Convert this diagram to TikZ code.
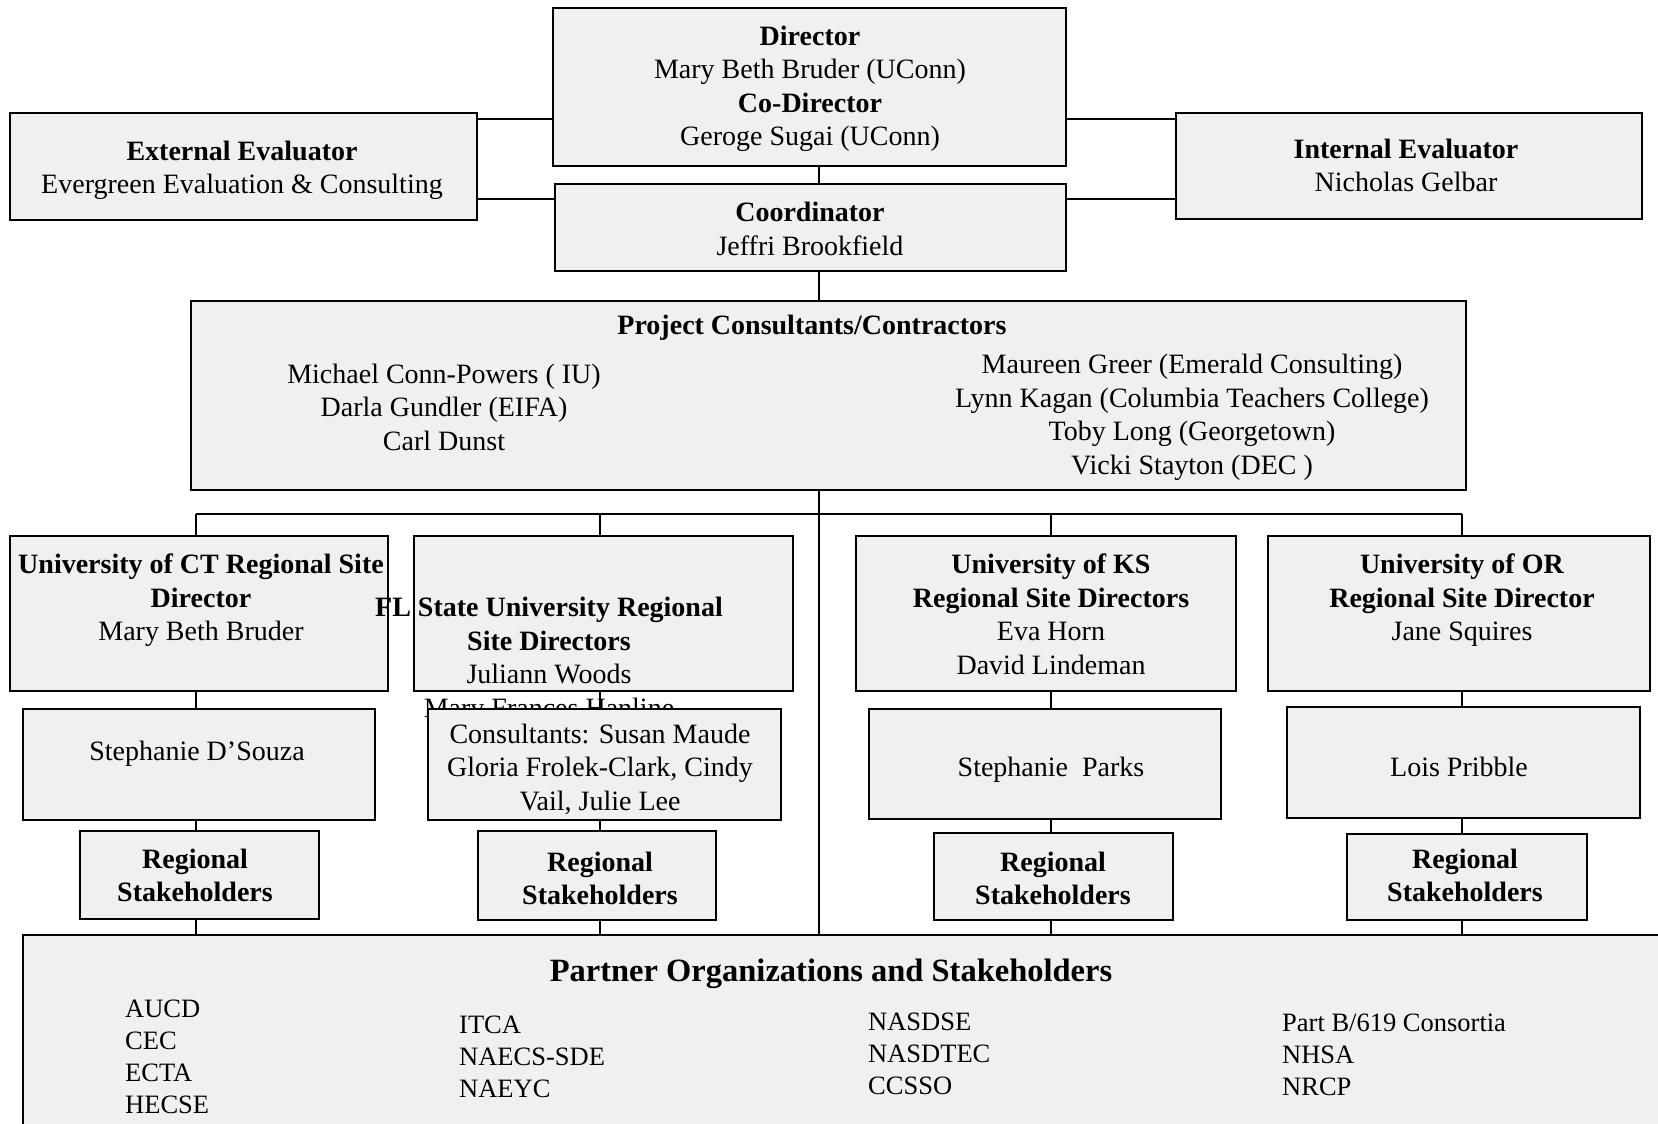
\documentclass[tikz,border=0pt]{standalone}
\usepackage{fontspec}
\setmainfont{Liberation Serif}
\definecolor{boxgray}{RGB}{240,240,240}
\tikzset{
  box/.style={draw=black, line width=2pt, fill=boxgray, rectangle, inner sep=0pt, outer sep=0pt},
  conn/.style={line width=1.6pt, draw=black},
  txt/.style={align=center, inner sep=0pt, font=\fontsize{28}{33.5}\selectfont},
  ttl/.style={align=center, inner sep=0pt, font=\fontsize{32.5}{38}\selectfont\bfseries},
  lst/.style={align=left, anchor=west, inner sep=0pt, font=\fontsize{26.5}{32}\selectfont}
}
\begin{document}
\begin{tikzpicture}[x=1pt,y=-1pt]
\useasboundingbox (0,0) rectangle (1658,1124);
\clip (0,0) rectangle (1658,1124);
\fill[white] (0,0) rectangle (1658,1124);

% ---- boxes ----
\node[box, minimum width=513pt, minimum height=157.5pt] (dir) at (809.5,87.25) {};
\node[box, minimum width=467.5pt, minimum height=107pt] (ext) at (243.25,166.5) {};
\node[box, minimum width=466pt, minimum height=106pt] (int) at (1409,166) {};
\node[box, minimum width=511pt, minimum height=87pt] (coord) at (810.5,227.5) {};
\node[box, minimum width=1275pt, minimum height=189pt] (proj) at (828.5,395.5) {};

\node[box, minimum width=378.5pt, minimum height=155pt] (siteCT) at (198.75,613.5) {};
\node[box, minimum width=379pt, minimum height=155pt] (siteFL) at (603.5,613.5) {};
\node[box, minimum width=380pt, minimum height=155pt] (siteKS) at (1046,613.5) {};
\node[box, minimum width=382pt, minimum height=155pt] (siteOR) at (1459,613.5) {};

% ---- texts, upper part ----
\node[txt] (tdir) at (810,89) {\textbf{Director}\\Mary Beth Bruder (UConn)\\\textbf{Co-Director}\\Geroge Sugai (UConn)};
\node[txt] (text) at (242,170.5) {\textbf{External Evaluator}\\Evergreen Evaluation \& Consulting};
\node[txt] (tint) at (1406,165.5) {\textbf{Internal Evaluator}\\Nicholas Gelbar};
\node[txt] (tcoord) at (810,229) {\textbf{Coordinator}\\Jeffri Brookfield};
\node[txt] (tprojT) at (812,328) {\textbf{Project Consultants/Contractors}};
\node[txt] (tprojL) at (444,407) {Michael Conn-Powers ( IU)\\Darla Gundler (EIFA)\\Carl Dunst};
\node[txt] (tprojR) at (1192,417.5) {Maureen Greer (Emerald Consulting)\\Lynn Kagan (Columbia Teachers College)\\Toby Long (Georgetown)\\Vicki Stayton (DEC )};

\node[txt] (tsiteCT) at (201,600.5) {\textbf{University of CT Regional Site}\\\textbf{Director}\\Mary Beth Bruder};
\node[txt] (tsiteFL) at (549,660.5) {\textbf{FL State University Regional}\\\textbf{Site Directors}\\Juliann Woods\\Mary Frances Hanline};
\node[txt] (tsiteKS) at (1051,614.5) {\textbf{University of KS}\\\textbf{Regional Site Directors}\\Eva Horn\\David Lindeman};
\node[txt] (tsiteOR) at (1462,600.5) {\textbf{University of OR}\\\textbf{Regional Site Director}\\Jane Squires};

% ---- middle boxes ----
\node[box, minimum width=352pt, minimum height=111pt] (midCT) at (199,764.5) {};
\node[box, minimum width=353pt, minimum height=111pt] (midFL) at (604.5,764.5) {};
\node[box, minimum width=352pt, minimum height=110pt] (midKS) at (1045,764) {};
\node[box, minimum width=353pt, minimum height=111pt] (midOR) at (1463.5,762.5) {};
\node[txt] (tmidCT) at (197,754) {Stephanie D’Souza};
\node[txt] (tmidFL) at (600,769) {Consultants: Susan Maude\\Gloria Frolek-Clark, Cindy\\Vail, Julie Lee};
\node[txt] (tmidKS) at (1051,770) {Stephanie\ \ Parks};
\node[txt] (tmidOR) at (1459,767) {Lois Pribble};

% ---- stakeholder boxes ----
\node[box, minimum width=239pt, minimum height=88pt] (stkCT) at (199.5,875) {};
\node[box, minimum width=238pt, minimum height=89pt] (stkFL) at (597,875.5) {};
\node[box, minimum width=239pt, minimum height=87pt] (stkKS) at (1053.5,876.5) {};
\node[box, minimum width=240pt, minimum height=86pt] (stkOR) at (1467,877) {};
\node[txt] (tstkCT) at (195,875.5) {\textbf{Regional}\\\textbf{Stakeholders}};
\node[txt] (tstkFL) at (600,878.5) {\textbf{Regional}\\\textbf{Stakeholders}};
\node[txt] (tstkKS) at (1053,878.5) {\textbf{Regional}\\\textbf{Stakeholders}};
\node[txt] (tstkOR) at (1465,875.5) {\textbf{Regional}\\\textbf{Stakeholders}};

% ---- partner box ----
\node[box, minimum width=1677pt, minimum height=245pt] (partner) at (861.5,1057.5) {};
\node[ttl] (tpartner) at (831,974) {Partner Organizations and Stakeholders};
\node[lst] (pc1) at (125,1057) {AUCD\\CEC\\ECTA\\HECSE};
\node[lst] (pc2) at (459,1057) {ITCA\\NAECS-SDE\\NAEYC};
\node[lst] (pc3) at (868,1053.5) {NASDSE\\NASDTEC\\CCSSO};
\node[lst] (pc4) at (1282,1054.5) {Part B/619 Consortia\\NHSA\\NRCP};

% ---- connectors ----
\coordinate (b1) at (196,514);
\coordinate (b2) at (600,514);
\coordinate (b3) at (1051,514);
\coordinate (b4) at (1462,514);
\coordinate (spine) at (819,0);

\draw[conn] (ext.east |- 0,119) -- (dir.west |- 0,119);
\draw[conn] (ext.east |- 0,199) -- (coord.west |- 0,199);
\draw[conn] (int.west |- 0,119) -- (dir.east |- 0,119);
\draw[conn] (int.west |- 0,199) -- (coord.east |- 0,199);
\draw[conn] (dir.south -| spine) -- (coord.north -| spine);
\draw[conn] (coord.south -| spine) -- (proj.north -| spine);
\draw[conn] (proj.south -| spine) -- (partner.north -| spine);
\draw[conn] (b1) -- (b4);
\draw[conn] (b1) -- (siteCT.north -| b1);
\draw[conn] (b2) -- (siteFL.north -| b2);
\draw[conn] (b3) -- (siteKS.north -| b3);
\draw[conn] (b4) -- (siteOR.north -| b4);

\draw[conn] (siteCT.south -| b1) -- (midCT.north -| b1);
\draw[conn] (siteFL.south -| b2) -- (midFL.north -| b2);
\draw[conn] (siteKS.south -| b3) -- (midKS.north -| b3);
\draw[conn] (siteOR.south -| b4) -- (midOR.north -| b4);

\draw[conn] (midCT.south -| b1) -- (stkCT.north -| b1);
\draw[conn] (midFL.south -| b2) -- (stkFL.north -| b2);
\draw[conn] (midKS.south -| b3) -- (stkKS.north -| b3);
\draw[conn] (midOR.south -| b4) -- (stkOR.north -| b4);

\draw[conn] (stkCT.south -| b1) -- (partner.north -| b1);
\draw[conn] (stkFL.south -| b2) -- (partner.north -| b2);
\draw[conn] (stkKS.south -| b3) -- (partner.north -| b3);
\draw[conn] (stkOR.south -| b4) -- (partner.north -| b4);
\end{tikzpicture}
\end{document}
